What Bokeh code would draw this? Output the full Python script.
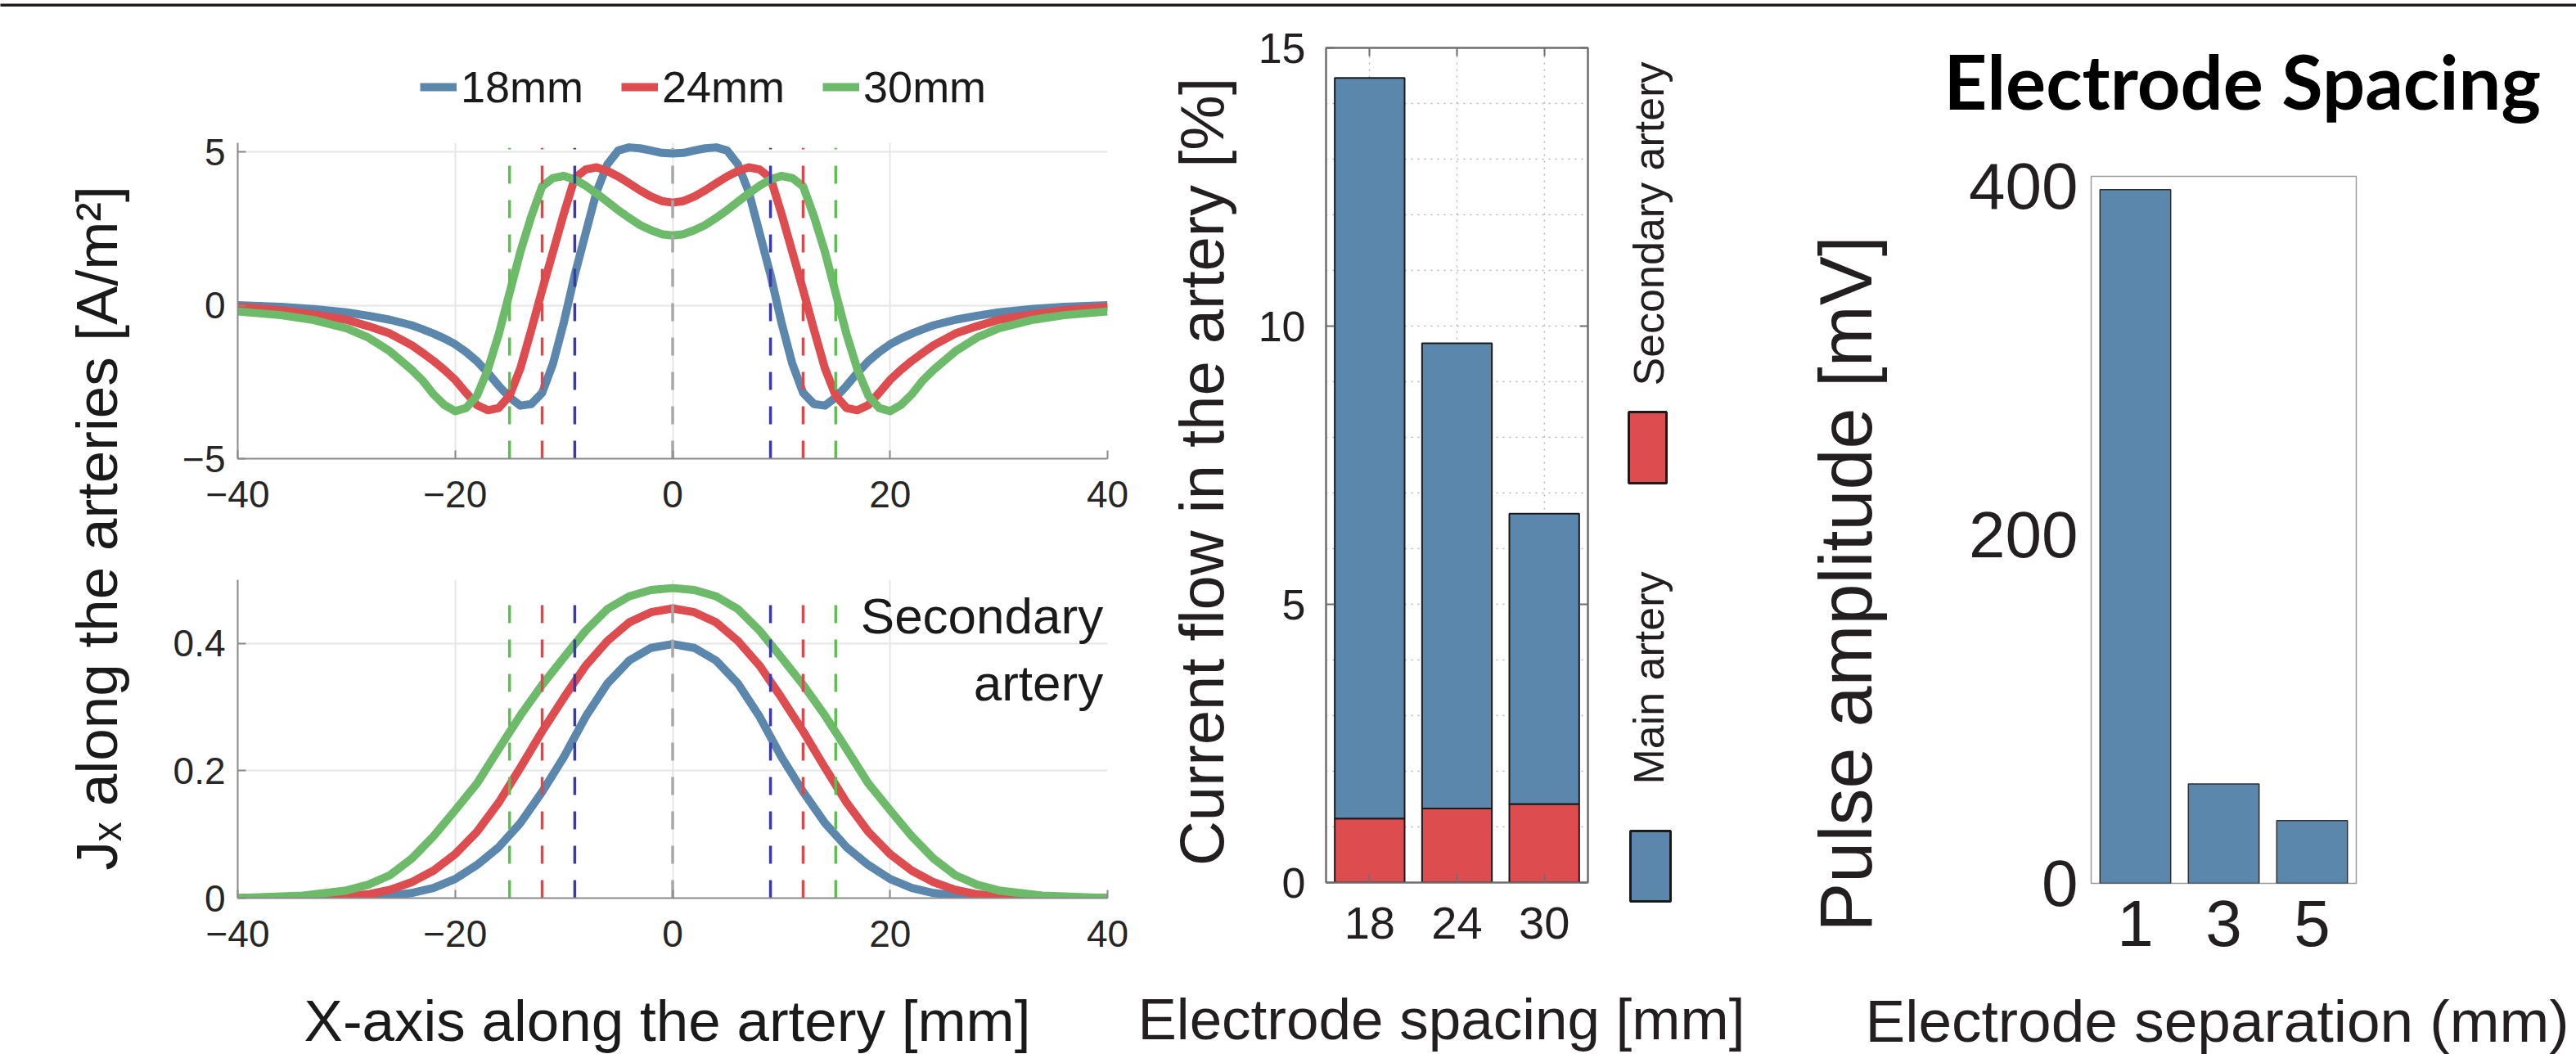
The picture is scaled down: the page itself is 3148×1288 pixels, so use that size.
from math import pi
from bokeh.plotting import figure
from bokeh.models import (Range1d, FactorRange, FixedTicker, SingleIntervalTicker, Label,
                          Legend, LegendItem, LinearAxis, CategoricalAxis, ColumnDataSource)
from bokeh.layouts import row, column
from bokeh.embed import file_html
from bokeh.resources import INLINE

# ---------------- data ----------------
SERIES_LABELS = ["18mm", "24mm", "30mm"]

# main artery J_x (right half, curve is symmetric about x = 0)
X_MAIN = [0, 1, 2, 3, 4, 5, 6, 7, 8, 9, 10, 11, 12, 13, 14, 15, 16, 17, 18, 19,
          20, 21, 22, 23, 24, 26, 28, 30, 33, 36, 40]
J_18 = [4.95, 4.97, 5.05, 5.12, 5.15, 5.05, 4.6, 3.7, 2.35, 1.0, -0.55, -1.9, -2.85,
        -3.22, -3.27, -3.0, -2.62, -2.2, -1.82, -1.52, -1.27, -1.08, -0.92, -0.78,
        -0.65, -0.47, -0.34, -0.23, -0.12, -0.05, 0.0]
J_24 = [3.35, 3.4, 3.55, 3.75, 3.98, 4.2, 4.38, 4.5, 4.43, 4.15, 3.0, 1.75, 0.5,
        -0.8, -2.05, -2.95, -3.35, -3.42, -3.25, -2.85, -2.43, -2.1, -1.81, -1.55,
        -1.3, -0.92, -0.68, -0.47, -0.3, -0.16, -0.05]
J_30 = [2.28, 2.32, 2.45, 2.62, 2.85, 3.1, 3.38, 3.65, 3.9, 4.1, 4.22, 4.15, 3.88,
        2.9, 1.75, 0.4, -0.95, -2.1, -2.95, -3.35, -3.45, -3.25, -2.9, -2.45, -2.1,
        -1.5, -1.05, -0.75, -0.48, -0.32, -0.2]

# secondary artery J_x (right half)
X_SEC = [0, 2, 4, 6, 8, 10, 12, 14, 16, 18, 20, 22, 24, 26, 28, 30, 34, 40]
S_18 = [0.399, 0.393, 0.373, 0.337, 0.285, 0.222, 0.167, 0.118, 0.08, 0.052, 0.030,
        0.016, 0.008, 0.004, 0.002, 0.001, 0.0, 0.0]
S_24 = [0.455, 0.449, 0.433, 0.404, 0.365, 0.315, 0.262, 0.205, 0.15, 0.104, 0.069,
        0.043, 0.025, 0.013, 0.006, 0.003, 0.001, 0.0]
S_30 = [0.487, 0.484, 0.474, 0.454, 0.42, 0.378, 0.335, 0.287, 0.234, 0.18, 0.138,
        0.097, 0.062, 0.036, 0.021, 0.012, 0.004, 0.0]

# electrode positions (dashed markers)
ELECTRODE_X = [-15, -12, -9, 0, 9, 12, 15]

# stacked bars
SPACING = ["18", "24", "30"]
SECONDARY = [1.15, 1.33, 1.41]
MAIN = [13.31, 8.36, 5.22]

# pulse amplitude bars
SEPARATION = ["1", "3", "5"]
PULSE = [398, 57, 36]

# ---------------- styles ----------------
BLUE = "#5B87AD"
RED = "#DD4C4F"
GREEN = "#6DBB6A"
LINE_COLORS = [BLUE, RED, GREEN]
DASH_COLORS = ["#5cc050", "#d84a4e", "#3a3aa8", "#a8a8a8", "#3a3aa8", "#d84a4e", "#5cc050"]
SANS = "Liberation Sans"
TXT = "#231f20"
AXC = "#8a8a8a"
NAN = float("nan")


def mirror(xs, ys):
    return [-v for v in xs[:0:-1]] + list(xs), list(ys[:0:-1]) + list(ys)


def blank(w, h, **borders):
    opts = dict(min_border_left=0, min_border_right=0, min_border_top=0, min_border_bottom=0)
    opts.update(borders)
    p = figure(width=w, height=h, x_range=Range1d(0, w), y_range=Range1d(0, h),
               x_axis_type=None, y_axis_type=None, output_backend="svg",
               toolbar_location=None, **opts)
    p.outline_line_color = None
    p.frame_align = False
    return p


def style_matlab(p, xticks, yticks):
    p.frame_align = False
    p.outline_line_color = None
    p.xaxis.ticker = FixedTicker(ticks=xticks)
    p.yaxis.ticker = FixedTicker(ticks=yticks)
    for ax in (p.xaxis, p.yaxis):
        ax.axis_line_color = AXC
        ax.axis_line_width = 2
        ax.major_tick_in = 10
        ax.major_tick_out = 0
        ax.major_tick_line_color = AXC
        ax.major_tick_line_width = 2
        ax.minor_tick_line_color = None
        ax.major_label_text_font = SANS
        ax.major_label_text_font_size = "46px"
        ax.major_label_text_color = "#262626"
    p.xaxis.major_label_standoff = 27
    p.yaxis.major_label_standoff = 15
    p.grid.grid_line_color = "#e6e6e6"
    p.grid.grid_line_width = 2


# ---------------- top band ----------------
band = blank(3148, 8)
band.background_fill_color = "#231f20"
band.border_fill_color = "#231f20"

# ---------------- panel A: J_x along the arteries ----------------
FA_lab = blank(183, 1280)
FA_lab.add_layout(Label(x=118, y=225, text="J\u2093 along the arteries [A/m\u00b2]", angle=pi / 2,
                        text_align="left", text_baseline="alphabetic", text_font=SANS,
                        text_font_size="71px", text_color="#1a1a1a"))

# legend strip (its frame is placed where the legend sits)
A_leg = blank(1197, 142, min_border_left=330, min_border_top=67)
leg_renderers = [A_leg.line(x=[NAN, NAN], y=[NAN, NAN], line_color=c, line_width=10)
                 for c in LINE_COLORS]
legend = Legend(items=[LegendItem(label=l, renderers=[r]) for l, r in zip(SERIES_LABELS, leg_renderers)],
                location="top_left", orientation="horizontal", label_text_font=SANS,
                label_text_font_size="54px", label_text_color="#1a1a1a", glyph_width=45,
                glyph_height=54, label_height=54, label_standoff=5, spacing=46, padding=0,
                margin=0, border_line_color=None, background_fill_alpha=0)
A_leg.add_layout(legend)

A1_TOP = 5.3
A1_DASH_TOP = 5.13
A1 = figure(width=1197, height=490, x_range=Range1d(-40, 40), y_range=Range1d(-5, A1_TOP),
            output_backend="svg", toolbar_location=None, min_border_left=107,
            min_border_right=27, min_border_top=24, min_border_bottom=80)
style_matlab(A1, [-40, -20, 0, 20, 40], [-5, 0, 5])
for ys, col in zip([J_18, J_24, J_30], LINE_COLORS):
    xx, yy = mirror(X_MAIN, ys)
    A1.line(xx, yy, line_color=col, line_width=10, line_join="round")
A1.segment(x0=ELECTRODE_X, y0=[-5] * len(ELECTRODE_X), x1=ELECTRODE_X,
           y1=[A1_DASH_TOP] * len(ELECTRODE_X), line_color=DASH_COLORS, line_width=3.5,
           line_dash="22 20")

A2_TOP = 0.5
A2_DASH_TOP = 0.485
A2 = figure(width=1197, height=550, x_range=Range1d(-40, 40), y_range=Range1d(0, A2_TOP),
            output_backend="svg", toolbar_location=None, min_border_left=107,
            min_border_right=27, min_border_top=68, min_border_bottom=93)
style_matlab(A2, [-40, -20, 0, 20, 40], [0, 0.2, 0.4])
A2.yaxis.major_label_overrides = {0: "0", 0.2: "0.2", 0.4: "0.4"}
for ys, col in zip([S_18, S_24, S_30], LINE_COLORS):
    xx, yy = mirror(X_SEC, ys)
    A2.line(xx, yy, line_color=col, line_width=10, line_join="round")
A2.segment(x0=ELECTRODE_X, y0=[0] * len(ELECTRODE_X), x1=ELECTRODE_X,
           y1=[A2_DASH_TOP] * len(ELECTRODE_X), line_color=DASH_COLORS, line_width=3.5,
           line_dash="22 20")
for txt, yv in (("Secondary", 0.444), ("artery", 0.3375)):
    A2.add_layout(Label(x=39.6, y=yv, text=txt, text_align="right", text_baseline="alphabetic",
                        text_font=SANS, text_font_size="62px", text_color="#1a1a1a"))

A_xlab = blank(1197, 98)
A_xlab.add_layout(Label(x=632, y=41, text="X-axis along the artery [mm]", text_align="center",
                        text_baseline="alphabetic", text_font=SANS, text_font_size="71px",
                        text_color="#1a1a1a"))

# ---------------- panel B: current flow stacked bars ----------------
B_ylab = blank(150, 1182)
B_ylab.add_layout(Label(x=88, y=614, text="Current flow in the artery [%]", angle=pi / 2,
                        text_align="center", text_baseline="alphabetic", text_font=SANS,
                        text_font_size="76px", text_color=TXT))

B = figure(width=430, height=1182, x_range=FactorRange(factors=SPACING), y_range=Range1d(0, 15),
           output_backend="svg", toolbar_location=None, min_border_left=90, min_border_right=20,
           min_border_top=50, min_border_bottom=112)
B.frame_align = False
src = ColumnDataSource(dict(spacing=SPACING, secondary=SECONDARY, main=MAIN))
B.vbar_stack(["secondary", "main"], x="spacing", width=0.8, fill_color=[RED, BLUE],
             line_color="#1a1a1a", line_width=2, source=src)
B.outline_line_color = "#6e6e6e"
B.outline_line_width = 2
B_left = B.left[0]
B_bottom = B.below[0]
B_left.ticker = FixedTicker(ticks=[0, 5, 10, 15])
B.ygrid.ticker = SingleIntervalTicker(interval=1)
B.grid.grid_line_color = "#b4b4b4"
B.grid.grid_line_width = 1.5
B.grid.grid_line_dash = "2 6"
B_right = LinearAxis(ticker=FixedTicker(ticks=[0, 5, 10, 15]), major_label_text_font_size="1px",
                     major_label_text_alpha=0)
B_top = CategoricalAxis(major_label_text_font_size="1px", major_label_text_alpha=0)
B.add_layout(B_right, "right")
B.add_layout(B_top, "above")
for ax in (B_left, B_bottom, B_right, B_top):
    ax.axis_line_color = "#6e6e6e"
    ax.axis_line_width = 2
    ax.major_tick_in = 10
    ax.major_tick_out = 0
    ax.major_tick_line_color = "#6e6e6e"
    ax.major_tick_line_width = 2
    ax.minor_tick_line_color = None
for ax in (B_left, B_bottom):
    ax.major_label_text_font = SANS
    ax.major_label_text_color = TXT
B_left.major_label_text_font_size = "52px"
B_bottom.major_label_text_font_size = "56px"
B_left.major_label_standoff = 25
B_bottom.major_label_standoff = 30

B_leg = blank(210, 1182)
B_leg.rect(x=[53, 56.5], y=[643.5, 132], width=[46, 49], height=[87, 86],
           fill_color=[RED, BLUE], line_color="#1a1a1a", line_width=3)
for txt, yv in (("Secondary artery", 917), ("Main artery", 362)):
    B_leg.add_layout(Label(x=54, y=yv, text=txt, angle=pi / 2, text_align="center",
                           text_baseline="alphabetic", text_font=SANS, text_font_size="52px",
                           text_color=TXT))

B_xlab = blank(790, 98)
B_xlab.add_layout(Label(x=10, y=43, text="Electrode spacing [mm]", text_align="left",
                        text_baseline="alphabetic", text_font=SANS, text_font_size="71px",
                        text_color=TXT))

# ---------------- panel C: pulse amplitude ----------------
C_title = blank(978, 160)
C_title.add_layout(Label(x=205, y=70, text="Electrode Spacing", text_align="left",
                         text_baseline="alphabetic", text_font="Lato", text_font_style="bold",
                         text_font_size="92px", text_color="#000000"))

C_ylab = blank(195, 1022)
C_ylab.add_layout(Label(x=85, y=477, text="Pulse amplitude [mV]", angle=pi / 2,
                        text_align="center", text_baseline="alphabetic", text_font=SANS,
                        text_font_size="90px", text_color=TXT))

C = figure(width=783, height=1022, x_range=FactorRange(factors=SEPARATION),
           y_range=Range1d(0, 405.6), output_backend="svg", toolbar_location=None,
           min_border_left=190, min_border_right=269, min_border_top=47, min_border_bottom=111)
C.frame_align = False
C.vbar(x=SEPARATION, top=PULSE, width=0.8, fill_color=BLUE, line_color="#2f2f2f", line_width=1.5)
C.outline_line_color = "#9a9a9a"
C.outline_line_width = 1.5
C.grid.visible = False
C.yaxis.ticker = FixedTicker(ticks=[0, 200, 400])
for ax in C.axis:
    ax.axis_line_color = None
    ax.major_tick_line_color = None
    ax.minor_tick_line_color = None
    ax.major_label_text_font = SANS
    ax.major_label_text_font_size = "80px"
    ax.major_label_text_color = TXT
C.yaxis.major_label_standoff = 10
C.xaxis.major_label_standoff = 15

C_xlab = blank(978, 98)
C_xlab.add_layout(Label(x=109, y=41, text="Electrode separation (mm)", text_align="left",
                        text_baseline="alphabetic", text_font=SANS, text_font_size="73px",
                        text_color=TXT))

layout = column(
    band,
    row(
        FA_lab,
        column(A_leg, A1, A2, A_xlab),
        column(row(B_ylab, B, B_leg), B_xlab),
        column(C_title, row(C_ylab, C), C_xlab),
    ),
)

open("out.html", "w").write(file_html(layout, INLINE))
